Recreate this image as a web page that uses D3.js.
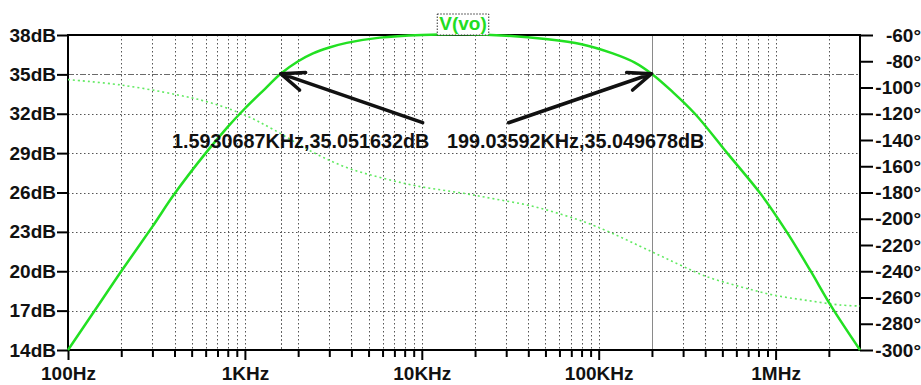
<!DOCTYPE html>
<html>
<head>
<meta charset="utf-8">
<script src="https://cdn.jsdelivr.net/npm/d3@7"></script>
<style>
  body { margin: 0; background: #fff; }
  svg { font-family: "Liberation Sans", Arial, sans-serif; font-weight: bold; }
</style>
</head>
<body>
<div id="chart"></div>
<script>
// Data
const magFreq = [100, 150, 200, 300, 400, 600, 800, 1000, 1300, 1593, 2000, 2427, 3000, 3763, 5806, 10000, 17800, 30000, 50000, 80000, 120000, 160000, 199036, 260000, 350000, 533000, 834000, 1156000, 1565000, 2070000, 3000000];
const magDb = [14.0, 17.5, 20.0, 23.4, 25.9, 29.0, 31.0, 32.4, 33.9, 35.05, 36.0, 36.6, 37.05, 37.4, 37.8, 38.0, 38.05, 37.95, 37.7, 37.3, 36.6, 35.9, 35.05, 33.7, 32.0, 29.0, 25.8, 23.0, 20.1, 17.3, 14.0];

const phaseFreq = [100, 197, 412, 635, 1000, 1447, 2436, 3763, 5803, 9356, 17170, 26510, 40900, 63070, 97400, 199400, 288100, 407800, 629200, 970600, 1498600, 2312000, 3000000];
const phaseDeg = [-94, -98, -105.5, -111.5, -121, -132, -149.5, -161, -168.5, -175, -180.6, -185.2, -190, -197.1, -206, -225.1, -235.2, -244.1, -251.7, -258.1, -262.2, -265.7, -266.5];

const dbTicks = [14, 17, 20, 23, 26, 29, 32, 35, 38];
const degTicks = [-300, -280, -260, -240, -220, -200, -180, -160, -140, -120, -100, -80, -60];
const freqMajors = [100, 1e3, 1e4, 1e5, 1e6];
const freqLabels = ["100Hz", "1KHz", "10KHz", "100KHz", "1MHz"];

const cursorFreq = [1593.0687, 199035.92];
const cursorDb = [35.051632, 35.049678];
const cursorLabels = ["1.5930687KHz,35.051632dB", "199.03592KHz,35.049678dB"];

const traceName = "V(vo)";

// Dimensions
const dimensions = { width: 921, height: 385, left: 68, right: 860, top: 35, bottom: 350 };

const svg = d3
  .select("#chart")
  .append("svg")
  .attr("width", dimensions.width)
  .attr("height", dimensions.height);

// Scales
const xScale = d3.scaleLog().domain([100, 3e6]).range([dimensions.left, dimensions.right]);
const yScale = d3.scaleLinear().domain([14, 38]).range([dimensions.bottom, dimensions.top]);
const phScale = d3.scaleLinear().domain([-300, -60]).range([dimensions.bottom, dimensions.top]);

// minor positions of the log axis
const minorTicks = [];
freqMajors.forEach((d) => {
  for (let m = 2; m <= 9; m++) if (d * m < 3e6) minorTicks.push(d * m);
});

// Grid
const grid = svg.append("g").attr("stroke", "#555").attr("stroke-width", 1).attr("stroke-dasharray", "1.5,2.5");
grid
  .selectAll("line.v")
  .data(freqMajors.slice(1).concat(minorTicks))
  .join("line")
  .attr("x1", (d) => Math.round(xScale(d)) + 0.5)
  .attr("x2", (d) => Math.round(xScale(d)) + 0.5)
  .attr("y1", dimensions.top)
  .attr("y2", dimensions.bottom);
grid
  .selectAll("line.h")
  .data(dbTicks.filter((d) => d > 14 && d < 38 && d !== 35))
  .join("line")
  .attr("x1", dimensions.left)
  .attr("x2", dimensions.right)
  .attr("y1", (d) => Math.round(yScale(d)) + 0.5)
  .attr("y2", (d) => Math.round(yScale(d)) + 0.5);

// Cursors
svg
  .append("line")
  .attr("x1", dimensions.left)
  .attr("x2", dimensions.right)
  .attr("y1", Math.round(yScale(cursorDb[0])) + 0.5)
  .attr("y2", Math.round(yScale(cursorDb[0])) + 0.5)
  .attr("stroke", "#6a6a6a")
  .attr("stroke-dasharray", "6,2,2,2");
svg
  .append("line")
  .attr("x1", Math.round(xScale(cursorFreq[0])) + 0.5)
  .attr("x2", Math.round(xScale(cursorFreq[0])) + 0.5)
  .attr("y1", dimensions.top)
  .attr("y2", dimensions.bottom)
  .attr("stroke", "#666")
  .attr("stroke-dasharray", "2,2");
svg
  .append("line")
  .attr("x1", Math.round(xScale(cursorFreq[1])) + 0.5)
  .attr("x2", Math.round(xScale(cursorFreq[1])) + 0.5)
  .attr("y1", dimensions.top)
  .attr("y2", dimensions.bottom)
  .attr("stroke", "#8a8a8a");

// Axes
const leftAxis = d3.axisLeft(yScale).tickValues(dbTicks).tickFormat((d) => d + "dB").tickSize(11).tickPadding(1);
const rightAxis = d3.axisRight(phScale).tickValues(degTicks).tickFormat((d) => d + "°").tickSize(13);
const bottomMinor = d3.axisBottom(xScale).tickValues(minorTicks).tickFormat("").tickSize(7);
const bottomMajor = d3
  .axisBottom(xScale)
  .tickValues(freqMajors)
  .tickFormat((d, i) => freqLabels[i])
  .tickSize(10)
  .tickPadding(7);

const styleAxis = (g) => {
  g.select(".domain").remove();
  g.selectAll(".tick line").attr("stroke", "#000").attr("stroke-width", 2);
  g.selectAll(".tick text").attr("fill", "#111").attr("font-size", 19).attr("font-weight", "bold").attr("font-family", null);
};

svg.append("g").attr("transform", `translate(${dimensions.left},0)`).call(leftAxis).call(styleAxis);
svg
  .append("g")
  .attr("transform", `translate(${dimensions.right},0)`)
  .call(rightAxis)
  .call(styleAxis)
  .call((g) => g.selectAll(".tick text").attr("text-anchor", "end").attr("x", dimensions.width - dimensions.right));
svg.append("g").attr("transform", `translate(0,${dimensions.bottom})`).call(bottomMinor).call(styleAxis);
svg.append("g").attr("transform", `translate(0,${dimensions.bottom})`).call(bottomMajor).call(styleAxis);

// Frame
svg
  .append("rect")
  .attr("x", dimensions.left)
  .attr("y", dimensions.top)
  .attr("width", dimensions.right - dimensions.left)
  .attr("height", dimensions.bottom - dimensions.top)
  .attr("fill", "none")
  .attr("stroke", "#000")
  .attr("stroke-width", 2);

// Traces
const phaseLine = d3
  .line()
  .x((d, i) => xScale(phaseFreq[i]))
  .y((d) => phScale(d))
  .curve(d3.curveCatmullRom.alpha(0.5));
svg
  .append("path")
  .attr("d", phaseLine(phaseDeg))
  .attr("fill", "none")
  .attr("stroke", "#62ea62")
  .attr("stroke-width", 1.6)
  .attr("stroke-dasharray", "2,3");

const magLine = d3
  .line()
  .x((d, i) => xScale(magFreq[i]))
  .y((d) => yScale(d))
  .curve(d3.curveCatmullRom.alpha(0.5));
svg
  .append("path")
  .attr("d", magLine(magDb))
  .attr("fill", "none")
  .attr("stroke", "#22e022")
  .attr("stroke-width", 2.5);

// Trace name
const nameG = svg.append("g");
const nameText = nameG
  .append("text")
  .attr("x", 463)
  .attr("y", 30)
  .attr("text-anchor", "middle")
  .attr("font-size", 19)
  .attr("fill", "#22dd22")
  .text(traceName);
const nb = nameText.node().getBBox();
nameG
  .insert("rect", "text")
  .attr("x", nb.x - 2)
  .attr("y", nb.y + 1)
  .attr("width", nb.width + 4)
  .attr("height", dimensions.top - nb.y - 1)
  .attr("fill", "#fff")
  .attr("stroke", "#333")
  .attr("stroke-dasharray", "1.5,1.5");

// Arrows and cursor readouts
const arrowTail = [
  [142, 49],
  [-143, 49],
];
const labelX = [172, 447];
cursorFreq.forEach((f, i) => {
  const tx = xScale(f);
  const ty = yScale(cursorDb[i]);
  const ex = tx + arrowTail[i][0];
  const ey = ty + arrowTail[i][1];
  const a = Math.atan2(ey - ty, ex - tx);
  const len = 25;
  const arms = [a - 0.38, a + 0.38].map((b) => [tx + len * Math.cos(b), ty + len * Math.sin(b)]);
  svg
    .append("path")
    .attr("d", `M${ex},${ey}L${tx},${ty}M${arms[0][0]},${arms[0][1]}L${tx},${ty}L${arms[1][0]},${arms[1][1]}`)
    .attr("fill", "none")
    .attr("stroke", "#111")
    .attr("stroke-width", 3.5)
    .attr("stroke-linecap", "round")
    .attr("stroke-linejoin", "round");
  svg
    .append("text")
    .attr("x", labelX[i])
    .attr("y", ty + 74)
    .attr("font-size", 19.8)
    .attr("fill", "#111")
    .text(cursorLabels[i]);
});
</script>
</body>
</html>
